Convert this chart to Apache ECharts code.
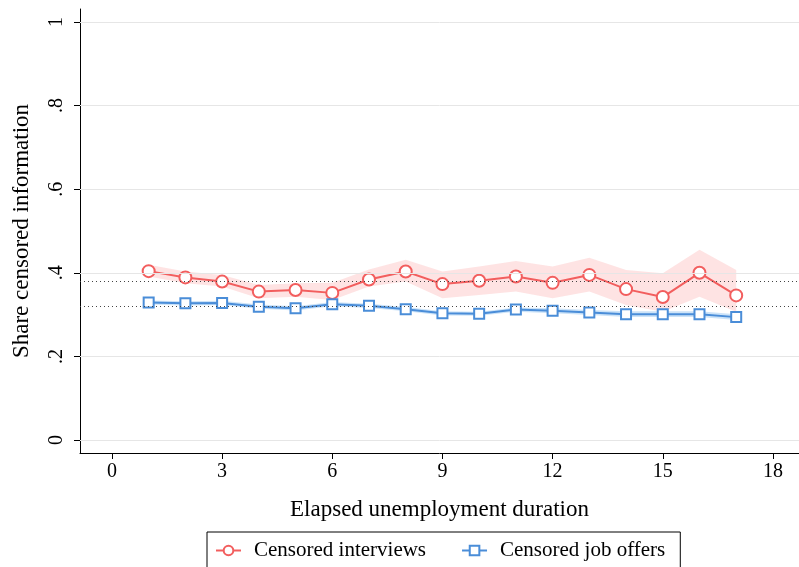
<!DOCTYPE html>
<html><head><meta charset="utf-8">
<script src="https://cdn.jsdelivr.net/npm/echarts@6/dist/echarts.min.js"></script>
<style>html,body{margin:0;padding:0;background:#fff}#c{width:799px;height:567px}</style>
</head><body><div id="c"></div>
<script>
const months = [1,2,3,4,5,6,7,8,9,10,11,12,13,14,15,16,17];
const interviews = [0.404,0.389,0.379,0.355,0.359,0.352,0.384,0.403,0.373,0.381,0.391,0.376,0.395,0.361,0.342,0.400,0.346];
const interviewsLo = [0.391,0.375,0.367,0.339,0.343,0.335,0.367,0.379,0.339,0.347,0.355,0.339,0.355,0.323,0.307,0.343,0.307];
const interviewsHi = [0.419,0.403,0.395,0.371,0.375,0.376,0.408,0.431,0.403,0.415,0.428,0.415,0.436,0.407,0.399,0.455,0.407];
const offers = [0.329,0.327,0.328,0.319,0.315,0.325,0.321,0.313,0.303,0.302,0.312,0.309,0.305,0.301,0.301,0.301,0.294];
const offersLo = [0.324,0.322,0.323,0.314,0.310,0.320,0.316,0.308,0.298,0.297,0.307,0.303,0.299,0.294,0.294,0.294,0.287];
const offersHi = [0.334,0.332,0.333,0.324,0.320,0.330,0.326,0.318,0.308,0.307,0.317,0.315,0.311,0.308,0.308,0.308,0.301];
const xTicks = [0,3,6,9,12,15,18];
const yTicks = [0,0.2,0.4,0.6,0.8,1];
const refLines = [0.380,0.316];

const FONT = 'Liberation Serif';
const pair = (arr) => months.map((m,i)=>[m,arr[i]]);
const bandData = (lo,hi) => months.map((m,i)=>[m,lo[i],hi[i]]);
const yLabel = v => { if (v===0) return '0'; if (v===1) return '1'; return String(+v.toFixed(1)).replace(/^0/,''); };

function bandSeries(lo,hi,color){
  const d = bandData(lo,hi);
  return {
    type:'custom', silent:true, data:d, z:1,
    encode:{x:0,y:[1,2]},
    renderItem:function(params,api){
      if (params.dataIndex!==0) return null;
      const upper = d.map(p=>api.coord([p[0],p[2]]));
      const lower = d.map(p=>api.coord([p[0],p[1]])).reverse();
      return {type:'polygon',shape:{points:upper.concat(lower)},style:{fill:color,stroke:'none'}};
    }
  };
}

const chart = echarts.init(document.getElementById('c'));
chart.setOption({
  animation:false,
  backgroundColor:'#fff',
  grid:{left:80,right:0,top:9,bottom:114},
  xAxis:{
    type:'value', min:-0.87, max:18.71,
    name:'Elapsed unemployment duration', nameLocation:'middle', nameGap:45,
    nameTextStyle:{fontFamily:FONT,fontSize:23,color:'#000'},
    axisLine:{show:true,onZero:false,lineStyle:{color:'#000',width:1}},
    axisTick:{show:true,length:6,customValues:xTicks,lineStyle:{color:'#000'}},
    axisLabel:{customValues:xTicks,fontFamily:FONT,fontSize:20,color:'#000',margin:9},
    splitLine:{show:false}
  },
  yAxis:{
    type:'value', min:-0.031, max:1.031,
    name:'Share censored information', nameLocation:'middle', nameGap:47,
    nameTextStyle:{fontFamily:FONT,fontSize:23,color:'#000'},
    axisLine:{show:true,onZero:false,lineStyle:{color:'#000',width:1}},
    axisTick:{show:true,length:6,customValues:yTicks,lineStyle:{color:'#000'}},
    axisLabel:{customValues:yTicks,rotate:90,formatter:yLabel,fontFamily:FONT,fontSize:20,color:'#000',margin:13},
    splitLine:{show:false}
  },
  legend:{
    data:['Censored interviews','Censored job offers'],
    left:207, top:532,
    borderColor:'#000', borderWidth:1,
    padding:[8,15,12,8],
    itemWidth:25, itemHeight:12, itemGap:35,
    textStyle:{fontFamily:FONT,fontSize:21,color:'#000',padding:[0,0,0,8]}
  },
  series:[
    {type:'line',name:'gridref',data:[],silent:true,
     markLine:{symbol:'none',silent:true,label:{show:false},
       lineStyle:{color:'#e6e6e6',width:1,type:'solid'},
       data:yTicks.map(v=>({yAxis:v}))}},
    {type:'line',name:'ref',data:[],silent:true,
     markLine:{symbol:'none',silent:true,label:{show:false},
       lineStyle:{color:'#444',width:1,type:[1,3]},
       data:refLines.map(v=>({yAxis:v}))}},
    bandSeries(interviewsLo,interviewsHi,'rgba(250,115,115,0.2)'),
    bandSeries(offersLo,offersHi,'rgba(110,175,235,0.35)'),
    {type:'line',name:'Censored interviews',data:pair(interviews),z:3,
     symbol:'circle',symbolSize:12,color:'#f25e5e',
     lineStyle:{color:'#f25e5e',width:2},
     itemStyle:{color:'#fff',borderColor:'#f25e5e',borderWidth:2}},
    {type:'line',name:'Censored job offers',data:pair(offers),z:3,
     symbol:'rect',symbolSize:10,color:'#4a8dd8',
     lineStyle:{color:'#4a8dd8',width:2},
     itemStyle:{color:'#fff',borderColor:'#4a8dd8',borderWidth:2}}
  ]
});
</script></body></html>
